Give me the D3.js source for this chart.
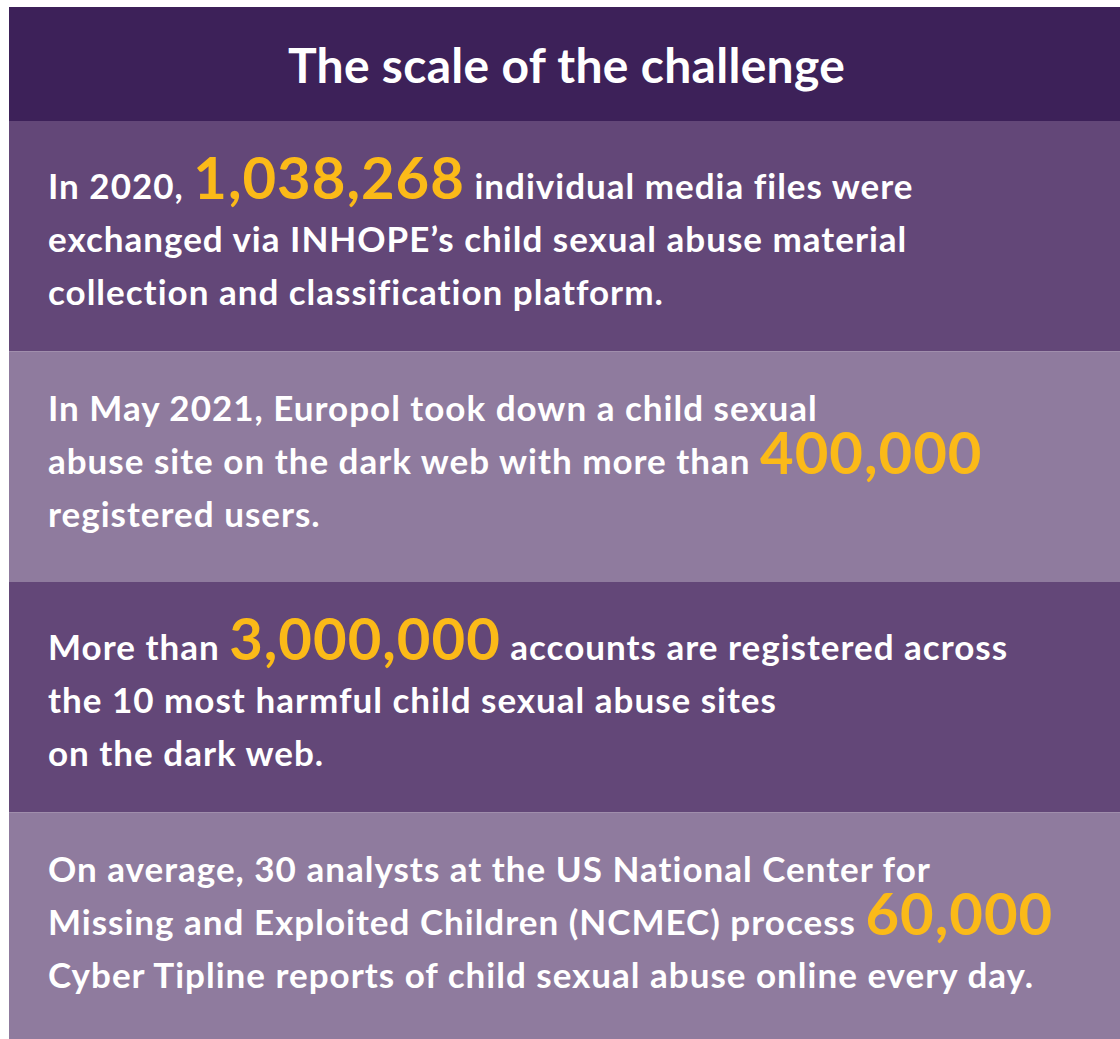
<!DOCTYPE html>
<html>
<head>
<meta charset="utf-8">
<script src="https://cdn.jsdelivr.net/npm/d3@7"></script>
<style>
  body { margin: 0; background: #fff; }
  svg { display: block; }
  text { font-family: Lato, 'Open Sans', sans-serif; font-weight: 700; }
</style>
</head>
<body>
<svg id="panel"></svg>
<script>
const svgWidth = 1120;
const svgHeight = 1039;

const title = 'The scale of the challenge';
const figures = ['1,038,268', '400,000', '3,000,000', '60,000'];
const statements = [
  ['In 2020, {n} individual media files were',
    'exchanged via INHOPE’s child sexual abuse material',
    'collection and classification platform.'],
  ['In May 2021, Europol took down a child sexual',
    'abuse site on the dark web with more than {n}',
    'registered users.'],
  ['More than {n} accounts are registered across',
    'the 10 most harmful child sexual abuse sites',
    'on the dark web.'],
  ['On average, 30 analysts at the US National Center for',
    'Missing and Exploited Children (NCMEC) process {n}',
    'Cyber Tipline reports of child sexual abuse online every day.'],
];
const shades = ['dark', 'light', 'dark', 'light'];

const colors = {
  header: '#3d2159', dark: '#634778', light: '#8f7b9e', figure: '#fbba18', text: '#ffffff',
};

const margin = { top: 7, left: 9 };
const headerHeight = 114;
const lineHeight = 53;

const svg = d3.select('#panel')
  .attr('width', svgWidth)
  .attr('height', svgHeight);

// header
svg.append('rect')
  .attr('x', margin.left)
  .attr('y', margin.top)
  .attr('width', svgWidth - margin.left)
  .attr('height', headerHeight)
  .attr('fill', colors.header);

svg.append('text')
  .attr('x', (margin.left + svgWidth) / 2 + 2)
  .attr('y', 83)
  .attr('text-anchor', 'middle')
  .attr('font-size', 48)
  .attr('letter-spacing', 0.3)
  .attr('fill', colors.text)
  .text(title);

// rows
const y = d3.scaleBand()
  .domain(d3.range(statements.length))
  .range([margin.top + headerHeight, 1043]);

const rows = svg.append('g')
  .selectAll('g')
  .data(statements)
  .enter()
  .append('g')
  .attr('transform', (d, i) => `translate(0,${y(i)})`);

rows.append('rect')
  .attr('x', margin.left)
  .attr('width', svgWidth - margin.left)
  .attr('height', y.bandwidth())
  .attr('fill', (d, i) => colors[shades[i]]);

const text = rows.append('text')
  .attr('x', 48)
  .attr('font-size', 35)
  .attr('letter-spacing', 1)
  .attr('fill', colors.text);

text.each(function (lines, i) {
  const first = lines[0].includes('{n}') ? 78 : 69; // big figure on first line pushes it down
  const t = d3.select(this);
  lines.forEach((line, j) => {
    const parts = line.split('{n}');
    const baseline = first + j * lineHeight;
    parts.forEach((part, k) => {
      const span = t.append('tspan').text(part);
      if (k === 0) span.attr('x', 48).attr('y', baseline);
      if (k < parts.length - 1) {
        t.append('tspan')
          .attr('font-size', 58)
          .attr('letter-spacing', 1)
          .attr('fill', colors.figure)
          .text(figures[i]);
      }
    });
  });
});
</script>
</body>
</html>
